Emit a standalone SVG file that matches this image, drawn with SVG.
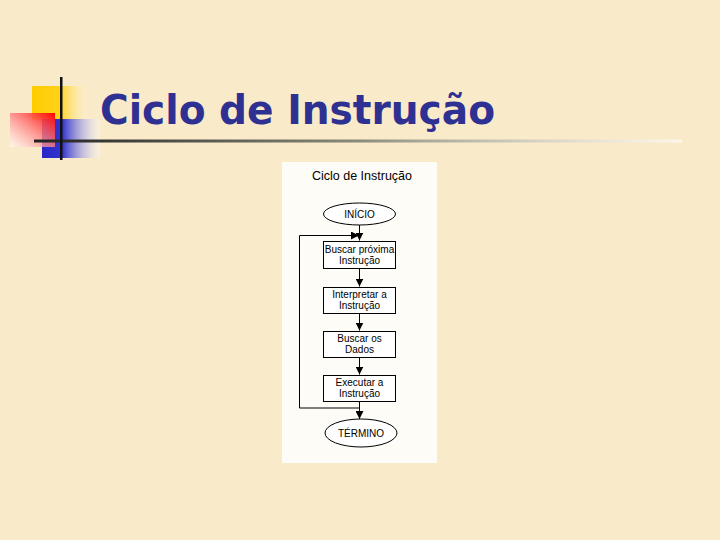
<svg xmlns="http://www.w3.org/2000/svg" width="720" height="540" viewBox="0 0 720 540">
  <defs>
    <linearGradient id="gYel" x1="0" y1="0" x2="1" y2="0">
      <stop offset="0" stop-color="#FFCC00"/>
      <stop offset="0.5" stop-color="#FFD21A"/>
      <stop offset="1" stop-color="#FFF4D0" stop-opacity="0.2"/>
    </linearGradient>
    <linearGradient id="gRed" x1="1" y1="0" x2="0" y2="1">
      <stop offset="0" stop-color="#FF0000"/>
      <stop offset="1" stop-color="#FFFFFF" stop-opacity="0.6"/>
    </linearGradient>
    <linearGradient id="gBlue" x1="0" y1="0" x2="1" y2="0">
      <stop offset="0" stop-color="#2828C8"/>
      <stop offset="0.35" stop-color="#3333CC"/>
      <stop offset="1" stop-color="#FFFFFF" stop-opacity="0.3"/>
    </linearGradient>
    <linearGradient id="gLine" x1="0" y1="0" x2="1" y2="0">
      <stop offset="0" stop-color="#222222"/>
      <stop offset="0.5" stop-color="#8A8A7A"/>
      <stop offset="1" stop-color="#FFFFFF" stop-opacity="0.6"/>
    </linearGradient>
    <marker id="arr" viewBox="0 0 10 10" refX="10" refY="5" markerWidth="8" markerHeight="8" markerUnits="userSpaceOnUse" orient="auto">
      <path d="M0,0 L10,5 L0,10 Z" fill="#000"/>
    </marker>
  </defs>
  <style>
    .box { fill: #FFFFFF; stroke: #000; stroke-width: 1; }
    .lbl { font-family: "Liberation Sans", Arial, sans-serif; font-size: 10px; fill: #000; text-anchor: middle; }
    .con { stroke: #000; stroke-width: 1; fill: none; }
  </style>

  <rect x="0" y="0" width="720" height="540" fill="#F9EACA"/>

  <g id="decoration">
    <rect x="32" y="86" width="56" height="34" fill="url(#gYel)"/>
    <rect x="42" y="119" width="58" height="39" fill="url(#gBlue)"/>
    <rect x="10" y="113" width="45" height="34" fill="url(#gRed)"/>
    <rect x="34" y="139.5" width="648" height="3" fill="url(#gLine)"/>
    <rect x="60" y="77" width="2.5" height="83" fill="#111"/>
  </g>

  <g id="title">
    <text x="100" y="124" font-family="'DejaVu Sans', Verdana, sans-serif" font-weight="bold" font-size="40" fill="#2E3192" textLength="395" lengthAdjust="spacingAndGlyphs">Ciclo de Instrução</text>
  </g>

  <g id="figure">
    <rect x="282" y="162" width="155" height="301" fill="#FEFCF7"/>
    <text x="362" y="180" font-family="'Liberation Sans', Arial, sans-serif" font-size="12.5" text-anchor="middle" fill="#000">Ciclo de Instrução</text>
  </g>

  <g id="connectors">
    <line class="con" x1="359.5" y1="225" x2="359.5" y2="240.5" marker-end="url(#arr)"/>
    <polyline class="con" points="359.5,408 299.5,408 299.5,235.5 359,235.5" marker-end="url(#arr)"/>
    <line class="con" x1="359.5" y1="269" x2="359.5" y2="286.5" marker-end="url(#arr)"/>
    <line class="con" x1="359.5" y1="314" x2="359.5" y2="330.5" marker-end="url(#arr)"/>
    <line class="con" x1="359.5" y1="358" x2="359.5" y2="374.5" marker-end="url(#arr)"/>
    <line class="con" x1="359.5" y1="402" x2="359.5" y2="419" marker-end="url(#arr)"/>
  </g>

  <g id="inicio">
    <ellipse class="box" cx="359.5" cy="214" rx="36" ry="11"/>
    <text class="lbl" x="359.5" y="217.5">INÍCIO</text>
  </g>
  <g id="buscar-proxima">
    <rect class="box" x="323.5" y="241.5" width="72" height="27"/>
    <text class="lbl" x="359.5" y="252.5">Buscar próxima</text>
    <text class="lbl" x="359.5" y="263.5">Instrução</text>
  </g>
  <g id="interpretar">
    <rect class="box" x="323.5" y="287.5" width="72" height="26"/>
    <text class="lbl" x="359.5" y="297.5">Interpretar a</text>
    <text class="lbl" x="359.5" y="308.5">Instrução</text>
  </g>
  <g id="buscar-dados">
    <rect class="box" x="323.5" y="331.5" width="72" height="26"/>
    <text class="lbl" x="359.5" y="341.5">Buscar os</text>
    <text class="lbl" x="359.5" y="352.5">Dados</text>
  </g>
  <g id="executar">
    <rect class="box" x="323.5" y="375.5" width="72" height="26"/>
    <text class="lbl" x="359.5" y="385.5">Executar a</text>
    <text class="lbl" x="359.5" y="396.5">Instrução</text>
  </g>
  <g id="termino">
    <ellipse class="box" cx="361" cy="433" rx="36" ry="14"/>
    <text class="lbl" x="361" y="436.5">TÉRMINO</text>
  </g>
</svg>
